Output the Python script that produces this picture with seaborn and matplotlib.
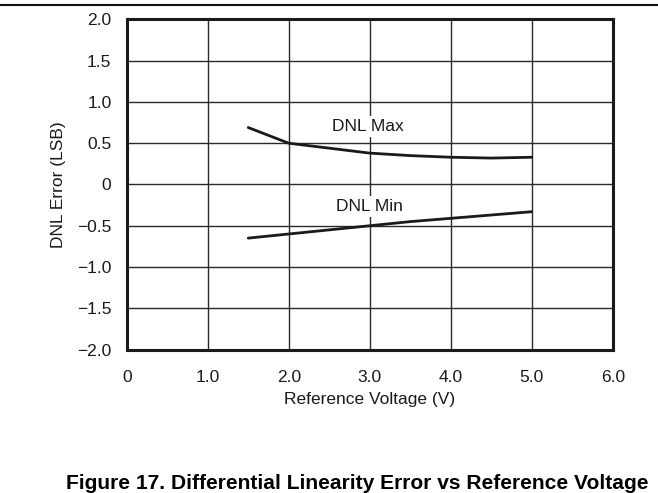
import pandas as pd
import matplotlib
matplotlib.use("Agg")
import matplotlib.pyplot as plt
import seaborn as sns

# ==========================================================
# DATA
# ==========================================================

ref_voltage = [1.5, 2.0, 2.5, 3.0, 3.5, 4.0, 4.5, 5.0]
dnl_max = [0.69, 0.50, 0.44, 0.38, 0.35, 0.33, 0.32, 0.33]
dnl_min = [-0.65, -0.60, -0.55, -0.50, -0.45, -0.41, -0.37, -0.33]

x_ticks = [0, 1, 2, 3, 4, 5, 6]
x_tick_labels = ["0", "1.0", "2.0", "3.0", "4.0", "5.0", "6.0"]
y_ticks = [-2.0, -1.5, -1.0, -0.5, 0, 0.5, 1.0, 1.5, 2.0]
y_tick_labels = ["\u22122.0", "\u22121.5", "\u22121.0", "\u22120.5", "0",
                 "0.5", "1.0", "1.5", "2.0"]

caption = "Figure 17. Differential Linearity Error vs Reference Voltage"

# ==========================================================
# STYLE
# ==========================================================

sns.set_style("white")
plt.rcParams["font.family"] = ["Liberation Sans", "DejaVu Sans"]

df = pd.DataFrame({
    "voltage": ref_voltage * 2,
    "dnl": dnl_max + dnl_min,
    "series": ["DNL Max"] * len(ref_voltage) + ["DNL Min"] * len(ref_voltage),
})

# ==========================================================
# PLOT
# ==========================================================

fig = plt.figure(figsize=(6.58, 4.93), dpi=100)
ax = fig.add_axes([0.1926, 0.291, 0.7386, 0.6696])

sns.lineplot(
    data=df, x="voltage", y="dnl", units="series", estimator=None,
    color="#1a1a1a", linewidth=2.0, ax=ax, legend=False
)

ax.set_xlim(0, 6)
ax.set_ylim(-2, 2)
ax.set_xticks(x_ticks)
ax.set_xticklabels(x_tick_labels)
ax.set_yticks(y_ticks)
ax.set_yticklabels(y_tick_labels)
ax.tick_params(axis="both", length=0, labelsize=12.5, colors="#1a1a1a")
ax.tick_params(axis="x", pad=15)
ax.tick_params(axis="y", pad=11)

ax.grid(True, color="#2a2a2a", linewidth=1.0)
ax.set_axisbelow(True)
for side in ax.spines.values():
    side.set_visible(True)
    side.set_color("#1a1a1a")
    side.set_linewidth(2.2)

ax.set_xlabel("Reference Voltage (V)", fontsize=12.5, color="#1a1a1a", labelpad=5)
ax.set_ylabel("DNL Error (LSB)", fontsize=12.5, color="#1a1a1a", labelpad=8)

box = dict(facecolor="white", edgecolor="none", pad=2)
ax.text(2.98, 0.70, "DNL Max", ha="center", va="center", fontsize=12.5,
        color="#1a1a1a", bbox=box)
ax.text(3.0, -0.27, "DNL Min", ha="center", va="center", fontsize=12.5,
        color="#1a1a1a", bbox=box)

# page rule at the top and figure caption below
fig.add_artist(plt.Line2D([0, 1], [0.99, 0.99], color="#111111", linewidth=1.5,
                          transform=fig.transFigure))
fig.text(0.100, 0.009, caption, fontsize=15.1, fontweight="bold", color="black",
         ha="left", va="baseline")

fig.savefig("out.png", dpi=100)
plt.close(fig)
